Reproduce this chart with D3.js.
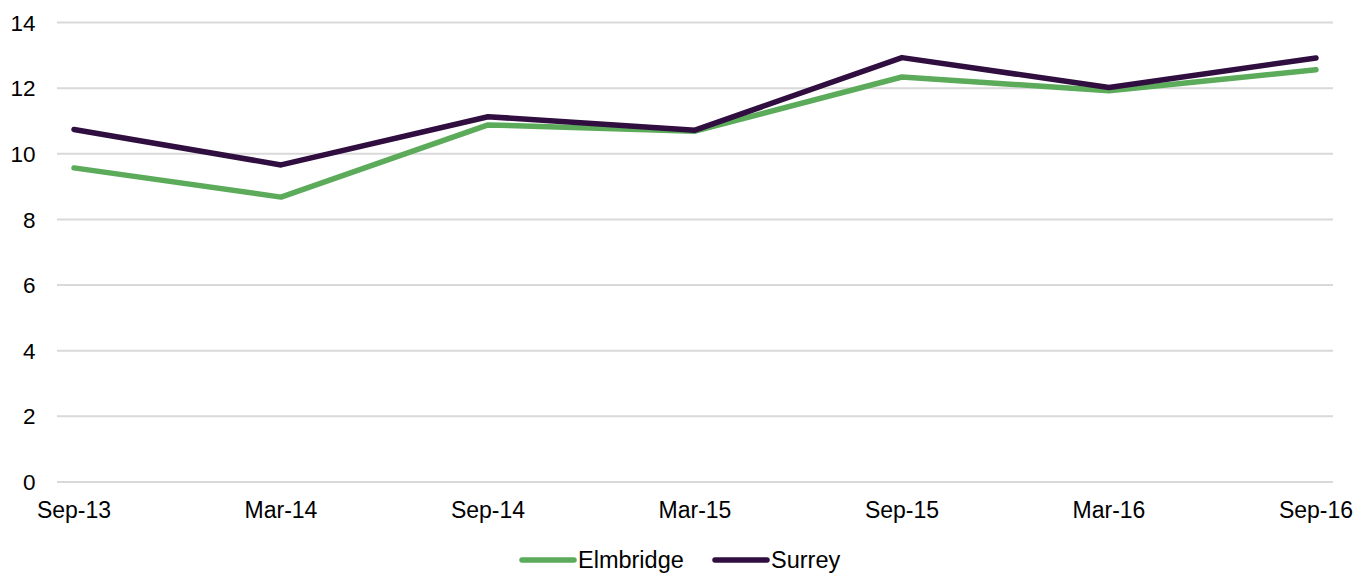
<!DOCTYPE html>
<html><head><meta charset="utf-8">
<script src="https://cdn.jsdelivr.net/npm/d3@7"></script>
<style>body{margin:0;background:#fff}svg{display:block;font-family:"Liberation Sans",Arial,sans-serif}</style>
</head><body><svg id="c" width="1371" height="573"></svg>
<script>
const categories = ["Sep-13","Mar-14","Sep-14","Mar-15","Sep-15","Mar-16","Sep-16"];
const elmbridge = [9.57, 8.68, 10.88, 10.69, 12.34, 11.92, 12.56];
const surrey = [10.74, 9.66, 11.13, 10.72, 12.93, 12.02, 12.92];
const yTicks = [0,2,4,6,8,10,12,14];
const seriesNames = ["Elmbridge","Surrey"];
const colors = ["#5bab5b","#300e3f"];

const svg = d3.select("#c");
const x = d3.scalePoint().domain(categories).range([74,1316]);
const y = d3.scaleLinear().domain([0,14]).range([482,22.5]);

svg.append("g").selectAll("line").data(yTicks).join("line")
  .attr("x1",57).attr("x2",1333).attr("y1",d=>y(d)).attr("y2",d=>y(d))
  .attr("stroke","#d9d9d9").attr("stroke-width",2);
svg.append("g").selectAll("text").data(yTicks).join("text")
  .attr("x",35.5).attr("y",d=>y(d)).attr("dy","0.36em").attr("text-anchor","end")
  .attr("font-size",22.5).attr("fill","#000").text(d=>d);
svg.append("g").selectAll("text").data(categories).join("text")
  .attr("x",d=>x(d)).attr("y",517.5).attr("text-anchor","middle")
  .attr("font-size",23).attr("fill","#000").text(d=>d);

const line = d3.line().x((d,i)=>x(categories[i])).y(d=>y(d));
[elmbridge, surrey].forEach((s,i)=>{
  svg.append("path").attr("d",line(s)).attr("fill","none")
    .attr("stroke",colors[i]).attr("stroke-width",5.5)
    .attr("stroke-linecap","round").attr("stroke-linejoin","round");
});

const leg = [{x:522,name:seriesNames[0],c:colors[0]},{x:715,name:seriesNames[1],c:colors[1]}];
leg.forEach(l=>{
  svg.append("line").attr("x1",l.x).attr("x2",l.x+52).attr("y1",560).attr("y2",560)
    .attr("stroke",l.c).attr("stroke-width",5.5).attr("stroke-linecap","round");
  svg.append("text").attr("x",l.x+56).attr("y",567.5).attr("font-size",23.5).attr("fill","#000").text(l.name);
});
</script></body></html>
